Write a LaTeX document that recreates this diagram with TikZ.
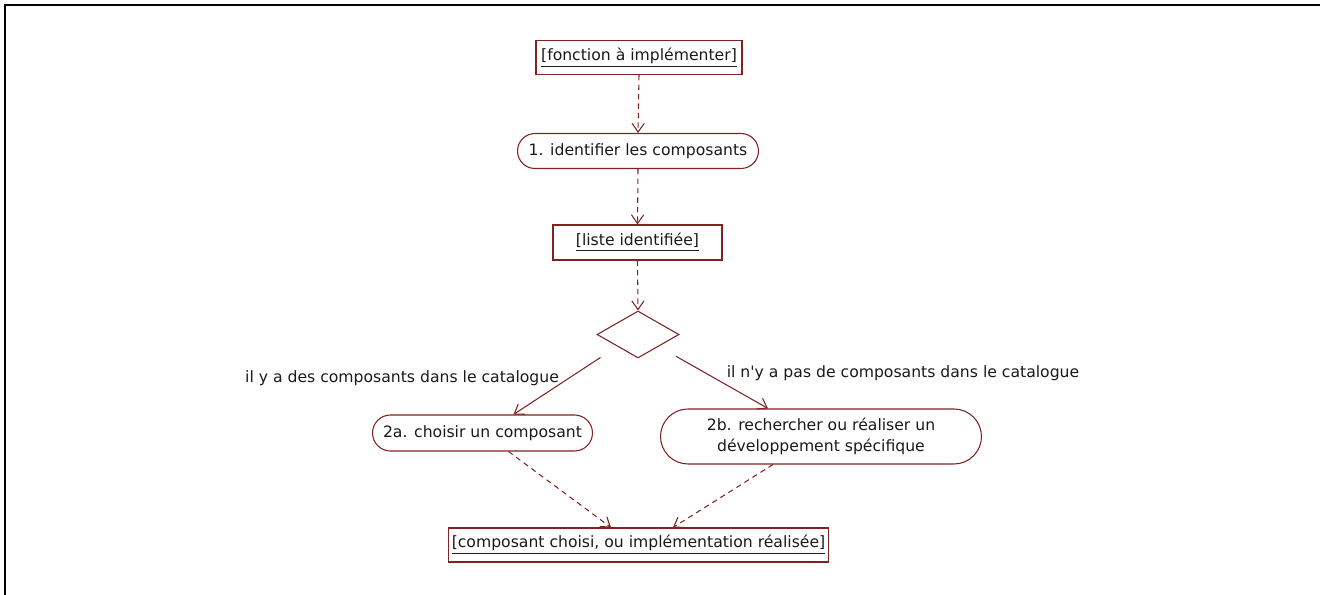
\documentclass[tikz,border=0pt]{standalone}
\usepackage{fontspec}
\setmainfont{DejaVu Sans}
\usetikzlibrary{arrows.meta, shapes.geometric, shapes.misc}
\definecolor{umledge}{HTML}{7E2222}
\definecolor{umltext}{HTML}{1A1A1A}

\begin{document}
\begin{tikzpicture}[
  font=\fontsize{8.9}{11.9}\selectfont, text=umltext,
  etat/.style={rectangle, draw=umledge, semithick, fill=white, minimum height=0.68cm,
               inner sep=2pt, align=center},
  activite/.style={rounded rectangle, draw=umledge, semithick, fill=white,
                   minimum height=0.70cm, inner sep=2pt, align=center},
  choixbox/.style={diamond, draw=umledge, semithick, fill=white, inner sep=0pt,
                   minimum width=1.64cm, minimum height=0.94cm},
  flux/.style={draw=umledge, semithick, dash pattern=on 3pt off 2.4pt,
               -{Straight Barb[length=5pt, width=7pt]}},
  garde/.style={draw=umledge, semithick, shorten <=0.4cm,
                -{Straight Barb[length=5pt, width=7pt]}},
]
\useasboundingbox (0,0) rectangle (26.4,-11.9);
% cadre (haut et gauche seulement)
\draw[line width=1.1pt] (0.1,-11.9) -- (0.1,-0.1) -- (26.4,-0.1);

\node[etat, minimum width=4.12cm] (fonction) at (12.78, -1.15) {\underline{[fonction à implémenter]}};
\node[activite, minimum width=4.96cm] (identifier) at (12.76, -3.02) {1. identifier les composants};
\node[etat, minimum width=3.38cm, minimum height=0.70cm] (liste) at (12.75, -4.85) {\underline{[liste identifiée]}};
\node[choixbox] (choix) at (12.76, -6.69) {};
\node[activite, minimum width=4.54cm, minimum height=0.72cm] (choisir) at (9.65, -8.66) {2a. choisir un composant};
\node[activite, minimum width=6.56cm, minimum height=1.1cm] (recherche) at (16.42, -8.73)
  {2b. rechercher ou réaliser un\\développement spécifique};
\node[etat, minimum width=7.58cm] (final) at (12.77, -10.90)
  {\underline{[composant choisi, ou implémentation réalisée]}};

% flot principal
\draw[flux] (fonction.south) -- (identifier.north);
\draw[flux] (identifier.south) -- (liste.north);
\draw[flux] (liste.south) -- (choix.north);

% branches de la decision, avec leurs gardes
\draw[garde] (choix.south west) -- ([xshift=0.62cm]choisir.north);
\draw[garde] (choix.south east) -- ([xshift=-1.06cm]recherche.north);
\node (gauche) at (8.04, -7.56) {il y a des composants dans le catalogue};
\node (droite) at (18.06, -7.46) {il n\textquotesingle y a pas de composants dans le catalogue};

% fusion vers l'etat final
\draw[flux] ([xshift=0.52cm]choisir.south) -- ([xshift=-0.55cm]final.north);
\draw[flux] ([xshift=-0.96cm]recherche.south) -- ([xshift=0.69cm]final.north);
\end{tikzpicture}
\end{document}
